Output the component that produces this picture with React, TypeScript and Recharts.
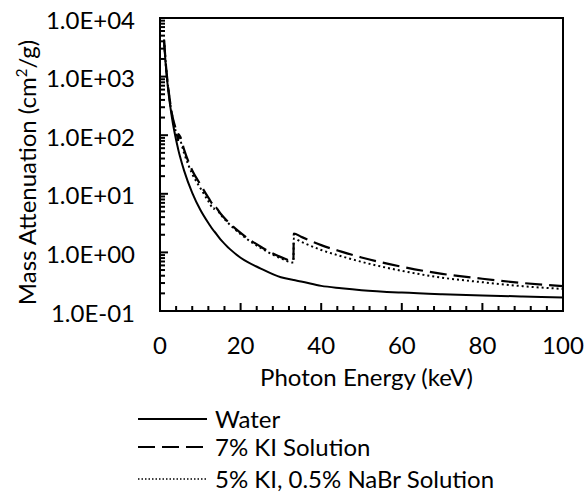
import { LineChart, Line, XAxis, YAxis, ReferenceArea } from "recharts"

// photon energies (keV)
const energy = [1, 1.5, 2, 3, 4, 4.55, 4.56, 5, 6, 8, 10, 12, 13.4, 13.5, 15, 20, 25, 30, 33.1, 33.2, 35, 40, 45, 50, 60, 70, 80, 90, 100]

// mass attenuation (cm2/g)
const water = [4078, 1376, 617.3, 192.9, 82.78, 56, 55.6, 42.58, 24.64, 10.37, 5.329, 3.17, 2.31, 2.27, 1.673, 0.8096, 0.53, 0.3756, 0.338, 0.337, 0.32, 0.2683, 0.245, 0.2269, 0.2059, 0.193, 0.1837, 0.177, 0.1707]
const ki7 = [4300, 1500, 695, 226, 120, 83, 104, 95, 56, 25, 14.5, 8.6, 6.3, 6.25, 4.6, 2.15, 1.25, 0.83, 0.71, 2.1, 1.85, 1.33, 1.03, 0.82, 0.57, 0.43, 0.355, 0.3, 0.265]
const kiNaBr = [4230, 1460, 677, 219, 110, 80, 90, 82, 49, 21.8, 12.6, 7.5, 5.5, 6.1, 4.45, 2.05, 1.19, 0.79, 0.67, 1.72, 1.52, 1.1, 0.86, 0.69, 0.485, 0.37, 0.31, 0.265, 0.238]

const xTicks = [0, 4, 8, 12, 16, 20, 24, 28, 32, 36, 40, 44, 48, 52, 56, 60, 64, 68, 72, 76, 80, 84, 88, 92, 96, 100]
const xLabelled = [0, 20, 40, 60, 80, 100]
const yDecades = [0.1, 1, 10, 100, 1000, 10000]

const yTicks: number[] = []
yDecades.forEach((d, i) => {
  yTicks.push(d)
  if (i < yDecades.length - 1) for (let m = 2; m <= 9; m++) yTicks.push(d * m)
})

const data = energy.map((e, i) => ({ e, water: water[i], ki7: ki7[i], kiNaBr: kiNaBr[i] }))

const series = [
  { key: "water", name: "Water", dash: undefined, width: 2 },
  { key: "ki7", name: "7% KI Solution", dash: "17 7", width: 2.2 },
  { key: "kiNaBr", name: "5% KI, 0.5% NaBr Solution", dash: "2 3", width: 2 },
]

const FONT = "Lato, 'Open Sans', sans-serif"
const FS = 24
const PLOT_LEFT = 160
const PLOT_BOTTOM = 311

const isDecade = (v: number) => Math.abs(Math.log10(v) - Math.round(Math.log10(v))) < 1e-9

const sci = (v: number) => {
  const p = Math.round(Math.log10(v))
  return `1.0E${p < 0 ? "-" : "+"}${String(Math.abs(p)).padStart(2, "0")}`
}

const XTick = (props: any) => {
  const { x, payload } = props
  const major = xLabelled.includes(payload.value)
  return (
    <g>
      <line x1={x} x2={x} y1={PLOT_BOTTOM} y2={PLOT_BOTTOM - (major ? 8 : 5)} stroke="#000" strokeWidth={2} />
      {major && (
        <text x={x} y={PLOT_BOTTOM + 34} dy="0.36em" textAnchor="middle" fontFamily={FONT} fontSize={FS} fill="#000">
          {payload.value}
        </text>
      )}
    </g>
  )
}

const YTick = (props: any) => {
  const { y, payload } = props
  const major = isDecade(payload.value)
  return (
    <g>
      <line x1={PLOT_LEFT} x2={PLOT_LEFT + (major ? 8 : 5)} y1={y} y2={y} stroke="#000" strokeWidth={2} />
      {major && (
        <text x={PLOT_LEFT - 25} y={y + 2} dy="0.36em" textAnchor="end" fontFamily={FONT} fontSize={FS} fill="#000">
          {sci(payload.value)}
        </text>
      )}
    </g>
  )
}

const Legend = () => {
  const rows = [419, 447, 479]
  return (
    <svg width={588} height={492} style={{ position: "absolute", left: 0, top: 0, pointerEvents: "none" }}>
      {series.map((s, i) => (
        <g key={s.key}>
          <line
            x1={138}
            x2={207}
            y1={rows[i]}
            y2={rows[i]}
            stroke="#000"
            strokeWidth={s.key === "kiNaBr" ? 1.5 : 2}
            strokeDasharray={s.key === "kiNaBr" ? "1.5 2" : s.dash}
          />
          <text x={215} y={rows[i]} dy="0.36em" fontFamily={FONT} fontSize={FS} fill="#000">
            {s.name}
          </text>
        </g>
      ))}
    </svg>
  )
}

export default function App() {
  return (
    <div style={{ position: "absolute", left: 0, top: 0, width: 588, height: 492, background: "#fff" }}>
      <LineChart width={588} height={492} data={data} margin={{ top: 18, right: 25, left: 100, bottom: 141 }}>
        <XAxis
          dataKey="e"
          type="number"
          domain={[0, 100]}
          ticks={xTicks}
          interval={0}
          tickLine={false}
          tick={<XTick />}
          height={40}
          axisLine={{ stroke: "#000", strokeWidth: 2 }}
          label={(p: any) => {
            const vb = p.viewBox
            return (
              <text x={vb.x + vb.width / 2 + 5} y={386} textAnchor="middle" fontFamily={FONT} fontSize={FS} fill="#000">
                Photon Energy (keV)
              </text>
            )
          }}
        />
        <YAxis
          type="number"
          scale="log"
          domain={[0.1, 10000]}
          allowDataOverflow
          ticks={yTicks}
          interval={0}
          tickLine={false}
          tick={<YTick />}
          width={60}
          axisLine={{ stroke: "#000", strokeWidth: 2 }}
          label={(p: any) => {
            const vb = p.viewBox
            const cy = vb.y + vb.height / 2 + 8
            return (
              <text x={36} y={cy} transform={`rotate(-90 36 ${cy})`} textAnchor="middle" fontFamily={FONT} fontSize={FS} fill="#000">
                Mass Attenuation (cm
                <tspan dy={-9} fontSize={15}>2</tspan>
                <tspan dy={9}>/g)</tspan>
              </text>
            )
          }}
        />
        <ReferenceArea x1={0} x2={100} y1={0.1} y2={10000} fill="none" stroke="#000" strokeWidth={2} />
        {series.map((s) => (
          <Line
            key={s.key}
            dataKey={s.key}
            name={s.name}
            type="monotone"
            stroke="#000"
            strokeWidth={s.width}
            strokeDasharray={s.dash}
            dot={false}
            isAnimationActive={false}
          />
        ))}
      </LineChart>
      <Legend />
    </div>
  )
}
